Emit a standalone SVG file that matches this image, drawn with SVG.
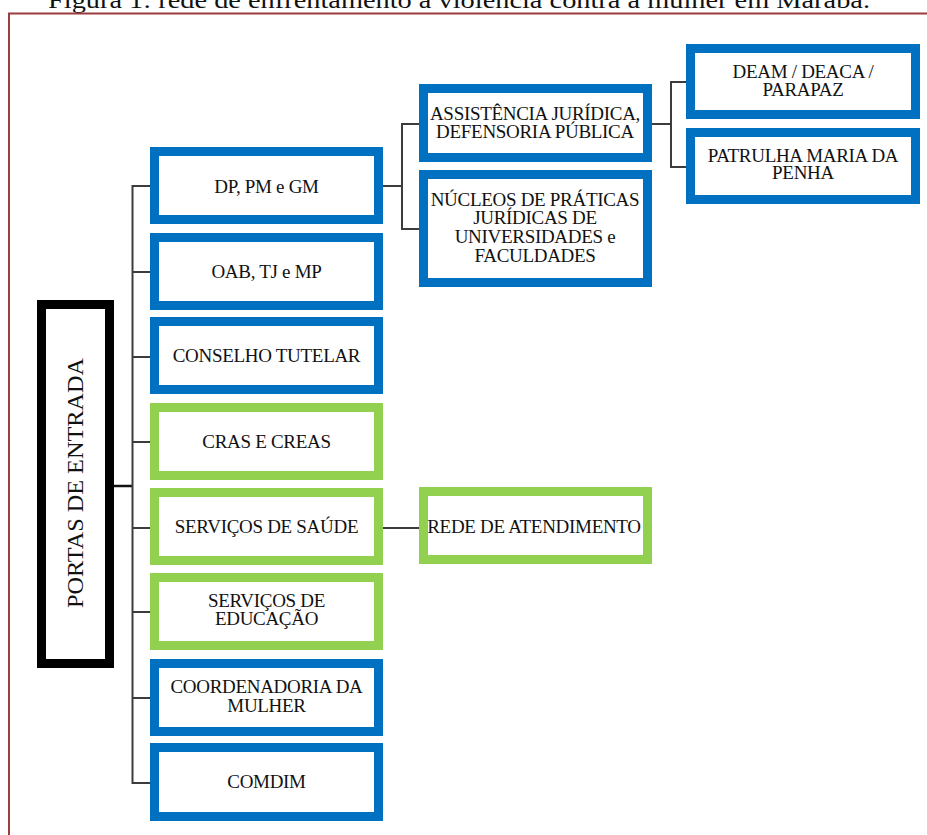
<svg xmlns="http://www.w3.org/2000/svg" width="927" height="835" viewBox="0 0 927 835">
<style>
  .bg{fill:#ffffff}
  .blue{fill:#ffffff;stroke:#0070C0;stroke-width:9}
  .green{fill:#ffffff;stroke:#92D050;stroke-width:9}
  .black{fill:#ffffff;stroke:#000000;stroke-width:9}
  .t{font-family:"Liberation Serif","Times New Roman",serif;font-size:19px;fill:#111111;text-anchor:middle;letter-spacing:-0.3px}
  .cap{font-family:"Liberation Serif","Times New Roman",serif;font-size:24px;fill:#111111}
  .conn{fill:none;stroke:#3c3c3c;stroke-width:2}
  .frame{fill:none;stroke:#9b3d3d;stroke-width:2}
</style>
<rect class="bg" x="0" y="0" width="927" height="835"/>
<text class="cap" x="48" y="8" textLength="822" lengthAdjust="spacingAndGlyphs">Figura 1: rede de enfrentamento à violência contra a mulher em Marabá.</text>
<path class="frame" d="M9 836 V13.5 H928"/>

<g id="connectors">
  <path class="conn" d="M114 486 H132.5" style="stroke:#111;stroke-width:2.5"/>
  <path class="conn" d="M150 186 H132.5 V783 H150"/>
  <path class="conn" d="M132.5 272 H150 M132.5 357 H150 M132.5 442 H150 M132.5 528 H150 M132.5 612 H150 M132.5 698 H150"/>
  <path class="conn" d="M383 186 H402"/>
  <path class="conn" d="M419 124 H402 V229 H419"/>
  <path class="conn" d="M652 124 H671"/>
  <path class="conn" d="M686 82 H671 V167 H686"/>
  <path class="conn" d="M383 528 H419"/>
</g>

<g id="portas">
  <rect class="black" x="41.5" y="304.5" width="68" height="359"/>
  <text class="t" transform="translate(83 483) rotate(-90)" style="font-size:24px;letter-spacing:0" textLength="250" lengthAdjust="spacingAndGlyphs">PORTAS DE ENTRADA</text>
</g>

<g id="dp">
  <rect class="blue" x="154.5" y="151.5" width="224" height="68"/>
  <text class="t" x="266.5" y="193">DP, PM e GM</text>
</g>
<g id="oab">
  <rect class="blue" x="154.5" y="237.5" width="224" height="68"/>
  <text class="t" x="266.5" y="278">OAB, TJ e MP</text>
</g>
<g id="conselho">
  <rect class="blue" x="154.5" y="321.5" width="224" height="68"/>
  <text class="t" x="266.5" y="362">CONSELHO TUTELAR</text>
</g>
<g id="cras">
  <rect class="green" x="154.5" y="407.5" width="224" height="68"/>
  <text class="t" x="266.5" y="448">CRAS E CREAS</text>
</g>
<g id="saude">
  <rect class="green" x="154.5" y="492.5" width="224" height="68"/>
  <text class="t" x="266.5" y="533">SERVIÇOS DE SAÚDE</text>
</g>
<g id="educacao">
  <rect class="green" x="154.5" y="577.5" width="224" height="68"/>
  <text class="t" x="266.5" y="607">SERVIÇOS DE</text>
  <text class="t" x="266.5" y="625">EDUCAÇÃO</text>
</g>
<g id="coordenadoria">
  <rect class="blue" x="154.5" y="663.5" width="224" height="68"/>
  <text class="t" x="266.5" y="693">COORDENADORIA DA</text>
  <text class="t" x="266.5" y="712">MULHER</text>
</g>
<g id="comdim">
  <rect class="blue" x="154.5" y="747.5" width="224" height="69"/>
  <text class="t" x="266.5" y="788">COMDIM</text>
</g>

<g id="assistencia">
  <rect class="blue" x="423.5" y="88.5" width="224" height="69"/>
  <text class="t" x="535" y="120">ASSISTÊNCIA JURÍDICA,</text>
  <text class="t" x="535" y="138">DEFENSORIA PÚBLICA</text>
</g>
<g id="nucleos">
  <rect class="blue" x="423.5" y="174.5" width="224" height="108"/>
  <text class="t" x="535" y="206">NÚCLEOS DE PRÁTICAS</text>
  <text class="t" x="535" y="224">JURÍDICAS DE</text>
  <text class="t" x="535" y="243">UNIVERSIDADES e</text>
  <text class="t" x="535" y="262">FACULDADES</text>
</g>
<g id="rede">
  <rect class="green" x="423.5" y="491.5" width="224" height="68"/>
  <text class="t" x="534" y="533">REDE DE ATENDIMENTO</text>
</g>
<g id="deam">
  <rect class="blue" x="690.5" y="48.5" width="225" height="66"/>
  <text class="t" x="803" y="78">DEAM / DEACA /</text>
  <text class="t" x="803" y="96">PARAPAZ</text>
</g>
<g id="patrulha">
  <rect class="blue" x="690.5" y="132.5" width="225" height="67"/>
  <text class="t" x="803" y="162">PATRULHA MARIA DA</text>
  <text class="t" x="803" y="179">PENHA</text>
</g>
</svg>
